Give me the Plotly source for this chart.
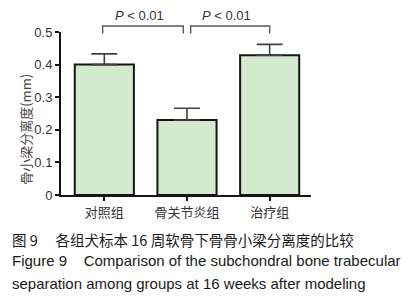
import plotly.graph_objects as go

categories = ["对照组", "骨关节炎组", "治疗组"]
means = [0.400, 0.230, 0.429]
sd_upper = [0.033, 0.036, 0.033]
y_ticks = [0, 0.1, 0.2, 0.3, 0.4, 0.5]
y_tick_labels = ["0", "0.1", "0.2", "0.3", "0.4", "0.5"]
comparisons = [(0, 1, "<i>P</i> < 0.01"), (1, 2, "<i>P</i> < 0.01")]
y_title = "骨小梁分离度(mm)"
caption_cn = "图 9　 各组犬标本 16 周软骨下骨骨小梁分离度的比较"
caption_en1 = "Figure 9    Comparison of the subchondral bone trabecular"
caption_en2 = "separation among groups at 16 weeks after modeling"

Y_MAX = 0.5
# page body has an 8px margin; figure is sized to fit the 412x300 window
W, H = 404, 292
L, R, T, B = 53, 101, 24, 105
PW, PH = W - L - R, H - T - B

fig = go.Figure()
fig.add_trace(go.Bar(
    x=categories, y=means,
    width=0.715,
    marker=dict(color="#d4eacf", line=dict(color="#151515", width=2)),
    error_y=dict(type="data", symmetric=False, array=sd_upper,
                 arrayminus=[0] * len(means), color="#404040",
                 thickness=1.6, width=13),
    showlegend=False,
))

shapes = []
annotations = []
gap = 0.045
for a, b, label in comparisons:
    x0 = a + (gap if a > 0 else -0.02)
    x1 = b - (gap if b < len(categories) - 1 else 0)
    top = 1 + 6 / PH
    leg = 1 - 1.5 / PH
    shapes.append(dict(type="path", xref="x", yref="paper",
                       path=f"M {x0},{leg} L {x0},{top} L {x1},{top} L {x1},{leg}",
                       line=dict(color="#5a5a5a", width=1.4)))
    annotations.append(dict(x=(x0 + x1) / 2 - 0.04, y=1 + 16 / PH, xref="x", yref="paper",
                            xanchor="center", yanchor="middle", borderpad=0,
                            text=label, showarrow=False,
                            font=dict(family="Liberation Sans", size=13, color="#333333")))

annotations.append(dict(x=-(L - 18) / PW, y=0.40, xref="paper", yref="paper",
                        xanchor="center", yanchor="middle",
                        text=y_title, textangle=-90, showarrow=False,
                        font=dict(family="Noto Sans CJK SC", size=13, color="#444444")))

annotations.append(dict(x=-(L - 2) / PW, y=-44 / PH, xref="paper", yref="paper",
                        xanchor="left", yanchor="middle", text=caption_cn, showarrow=False,
                        font=dict(family="Noto Sans CJK SC", size=14.5, color="#1a1a1a")))
annotations.append(dict(x=-(L - 2) / PW, y=-66 / PH, xref="paper", yref="paper",
                        xanchor="left", yanchor="middle", text=caption_en1, showarrow=False,
                        font=dict(family="Liberation Sans", size=15, color="#1a1a1a")))
annotations.append(dict(x=-(L - 2) / PW, y=-88 / PH, xref="paper", yref="paper",
                        xanchor="left", yanchor="middle", text=caption_en2, showarrow=False,
                        font=dict(family="Liberation Sans", size=15, color="#1a1a1a")))

fig.update_layout(
    width=W, height=H,
    margin=dict(l=L, r=R, t=T, b=B, autoexpand=False),
    paper_bgcolor="white", plot_bgcolor="white",
    shapes=shapes, annotations=annotations,
    xaxis=dict(type="category", range=[-0.524, 2.5], showline=True, linecolor="#151515",
               linewidth=2, ticks="outside", ticklen=4, tickwidth=1.6, tickcolor="#151515",
               showgrid=False, zeroline=False, automargin=False,
               tickfont=dict(family="Noto Sans CJK SC", size=13, color="#333333")),
    yaxis=dict(range=[0, Y_MAX], showline=True, linecolor="#151515", linewidth=2,
               ticks="outside", ticklen=4, tickwidth=1.6, tickcolor="#151515",
               tickvals=y_ticks, ticktext=y_tick_labels, showgrid=False, zeroline=False,
               automargin=False,
               tickfont=dict(family="Liberation Sans", size=13, color="#333333")),
)

fig.write_html("out.html")
